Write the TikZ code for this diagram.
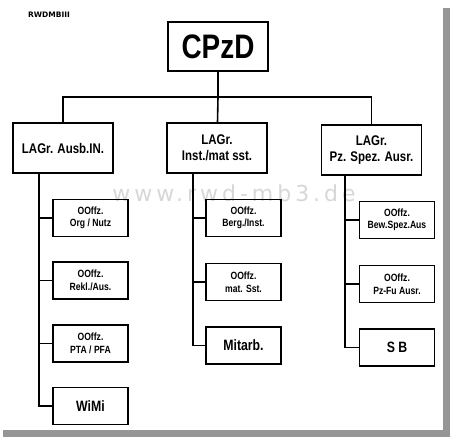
\documentclass[tikz,border=0pt]{standalone}
\usepackage{fontspec}
\setmainfont{Liberation Sans}[FakeStretch=0.82]
\newfontfamily\wmfont{DejaVu Sans}[LetterSpace=18]
\newfontfamily\tagfont{DejaVu Sans}
\usepackage{tikz}
\usetikzlibrary{calc}
\definecolor{frame}{RGB}{150,150,150}
\definecolor{wmark}{RGB}{215,215,215}

\begin{document}
\begin{tikzpicture}[x=1pt,y=-1pt,
  box/.style={draw,line width=1.6pt,inner sep=0pt,align=center},
  top/.style={box,minimum width=100pt,minimum height=49pt,font=\fontsize{34}{36}\selectfont\bfseries},
  grp/.style={box,minimum width=100pt,minimum height=50pt,font=\fontsize{14}{16}\selectfont\bfseries},
  sub/.style={box,minimum width=75pt,minimum height=37pt,font=\fontsize{10.5}{12.5}\selectfont\bfseries},
  big/.style={sub,font=\fontsize{15}{17}\selectfont\bfseries},
  wire/.style={line width=1.6pt}]
\useasboundingbox (0,0) rectangle (450,437);
% frame shadow
\fill[frame] (443,8) rectangle (450,437);
\fill[frame] (3,430) rectangle (450,437);
\node[font=\tagfont\fontsize{7.5}{9}\selectfont\bfseries,anchor=west,inner sep=0pt] (mark) at (28,15) {RWDMBIII};
% watermark
\node[wmark,font=\wmfont\fontsize{22}{24}\selectfont] (wm) at (234,193) {www.rwd-mb3.de};
% head
\node[top] (cpzd) at (218,46.5) {CPzD};
\node[grp] (lagrA) at (63,148) {LAGr. Ausb.IN.};
\node[grp] (lagrB) at (217,148) {LAGr.\\Inst./mat sst.};
\node[grp] (lagrC) at (371.5,150) {LAGr.\\Pz. Spez. Ausr.};
\coordinate (bus) at (218,97);
\draw[wire] (cpzd) -- (bus);
\draw[wire] (lagrA) |- (bus) -| (lagrC);
\draw[wire] (bus) -- (lagrB);
% left column
\node[sub] (org) at (90.5,218) {OOffz.\\Org / Nutz};
\node[sub] (rekl) at (90.5,280.5) {OOffz.\\Rekl./Aus.};
\node[sub] (pta) at (90.5,343.5) {OOffz.\\PTA / PFA};
\node[big] (wimi) at (90.5,406) {WiMi};
\coordinate (trA) at (39,173);
\draw[wire] (trA) |- (wimi);
\foreach \n in {org,rekl,pta} \draw[wire] (trA |- \n) -- (\n);
% middle column
\node[sub] (berg) at (243.5,218) {OOffz.\\Berg./Inst.};
\node[sub] (mat) at (243.5,282) {OOffz.\\mat. Sst.};
\node[big] (mitarb) at (243.5,345.5) {Mitarb.};
\coordinate (trB) at (193,173);
\draw[wire] (trB) |- (mitarb);
\foreach \n in {berg,mat} \draw[wire] (trB |- \n) -- (\n);
% right column
\node[sub] (bew) at (397,220) {OOffz.\\Bew.Spez.Aus};
\node[sub] (pzfu) at (397,284) {OOffz.\\Pz-Fu Ausr.};
\node[big] (sb) at (397,347.5) {S B};
\coordinate (trC) at (345,175);
\draw[wire] (trC) |- (sb);
\foreach \n in {bew,pzfu} \draw[wire] (trC |- \n) -- (\n);
\end{tikzpicture}
\end{document}
